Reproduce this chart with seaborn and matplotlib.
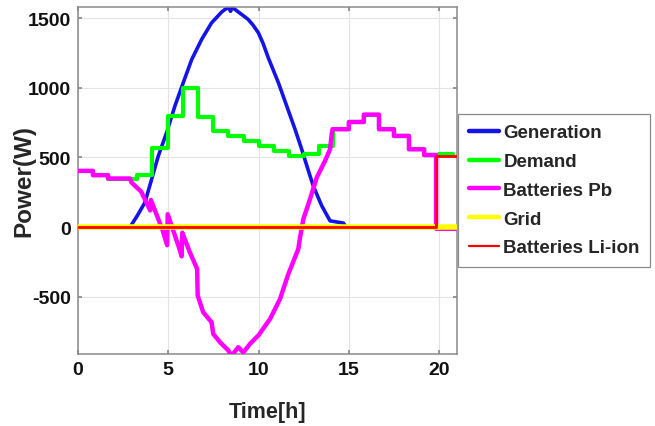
import matplotlib
matplotlib.use("Agg")
import matplotlib.pyplot as plt
import seaborn as sns

# ---- data (time in hours, power in W) ----
gen_t = [0, 2.88, 3.3, 3.71, 4.08, 4.45, 4.91, 5.37, 5.83, 6.3, 6.85, 7.4, 7.96,
         8.14, 8.33, 8.45, 8.55, 8.7, 9.07, 9.43, 9.7, 9.99, 10.25, 10.54,
         11.1, 11.56, 12.02, 12.39, 12.7, 13.03, 13.5, 13.96, 14.7, 14.85]
gen_p = [0, 0, 85, 177, 344, 511, 679, 870, 1037, 1204, 1348, 1467, 1545,
         1563, 1578, 1550, 1578, 1563, 1527, 1491, 1450, 1396, 1320, 1216,
         1037, 870, 703, 559, 430, 296, 153, 45, 29, 0]

dem_t = [0, 0.83, 1.67, 2.5, 3.25, 4.08, 5.0, 5.83, 6.67, 7.5, 8.33, 9.17, 10.0,
         10.83, 11.67, 12.5, 13.33, 14.1, 15.0, 15.83, 16.67, 17.5, 18.33,
         19.17, 20.0, 20.75]
dem_p = [404, 373, 349, 349, 372, 565, 798, 1000, 790, 690, 656, 619, 583,
         547, 511, 523, 583, 703, 755, 808, 703, 655, 559, 518, 527, 527]

pb_t = [0, 0.83, 0.83, 1.67, 1.67, 2.88, 2.97, 3.5, 3.8, 4.0, 4.04, 4.7, 4.94,
        4.97, 5.65, 5.74, 5.78, 6.2, 6.6, 6.63, 6.94, 7.4, 7.49, 7.87, 8.33,
        8.5, 8.88, 9.16, 9.53, 9.99, 10.64, 11.19, 11.65, 12.2, 12.3, 12.48,
        12.85, 13.22, 13.68, 13.96, 14.05, 14.1, 15.0, 15.0, 15.83, 15.83,
        16.67, 16.67, 17.5, 17.5, 18.33, 18.33, 19.17, 19.17, 19.83, 19.83, 21]
pb_p = [404, 404, 373, 373, 349, 349, 320, 255, 175, 120, 195, -26, -130,
        93, -168, -210, -40, -182, -300, -492, -612, -683, -767, -827, -886,
        -925, -862, -900, -838, -778, -659, -516, -337, -158, -74, 57,
        201, 356, 475, 559, 667, 703, 703, 755, 755, 808,
        808, 703, 703, 655, 655, 559, 559, 518, 518, -12, -12]

grid_t = [0, 21]
grid_p = [0, 0]

li_t = [0, 19.83, 19.83, 21]
li_p = [0, 0, 511, 511]

x_ticks = [0, 5, 10, 15, 20]
y_ticks = [-500, 0, 500, 1000, 1500]

# ---- style ----
sns.set_theme(style="whitegrid")
font = ["Liberation Sans", "DejaVu Sans"]
plt.rcParams["font.family"] = font
plt.rcParams["font.weight"] = "bold"
plt.rcParams["axes.unicode_minus"] = False

fig = plt.figure(figsize=(6.55, 4.27), dpi=100)
ax = fig.add_axes([0.119, 0.169, 0.579, 0.812])

common = dict(ax=ax, estimator=None, sort=False, errorbar=None)
sns.lineplot(x=gen_t, y=gen_p, color="#1414e6", lw=2.6,
             label="Generation", zorder=2, **common)
sns.lineplot(x=dem_t, y=dem_p, color="#00ff00", lw=3.0,
             drawstyle="steps-post", label="Demand", zorder=3, **common)
sns.lineplot(x=pb_t, y=pb_p, color="#ff00ff", lw=3.2,
             label="Batteries Pb", zorder=4, **common)
sns.lineplot(x=grid_t, y=grid_p, color="#ffff00", lw=4.0,
             label="Grid", zorder=5, **common)
sns.lineplot(x=li_t, y=li_p, color="#ff0000", lw=2.0,
             label="Batteries Li-ion", zorder=6, **common)

ax.set_xlim(0, 21)
ax.set_ylim(-910, 1580)
ax.set_xticks(x_ticks)
ax.set_yticks(y_ticks)
ax.grid(True, color="#e3e3e3", lw=0.8)
ax.set_facecolor("white")
for s in ax.spines.values():
    s.set_visible(True)
    s.set_color("#8a8a8a")
    s.set_linewidth(1.1)

ax.tick_params(axis="both", which="major", direction="in", length=3,
               color="#8a8a8a", labelsize=14, labelcolor="#111111", pad=5,
               top=True, right=True, left=True, bottom=True)
for lab in ax.get_xticklabels() + ax.get_yticklabels():
    lab.set_fontweight("bold")

ax.set_xlabel("Time[h]", fontsize=15.5, fontweight="bold", color="#262626")
ax.set_ylabel("Power(W)", fontsize=17.5, fontweight="bold", color="#262626")
ax.xaxis.set_label_coords(0.5, -0.135)
ax.yaxis.set_label_coords(-0.112, 0.5)

leg = ax.legend(loc="upper left", bbox_to_anchor=(1.003, 0.692),
                frameon=True, fancybox=False, framealpha=1,
                edgecolor="#8a8a8a", borderaxespad=0,
                prop={"family": font, "weight": "bold", "size": 13.5},
                handlelength=1.6, handletextpad=0.25, labelspacing=0.62,
                borderpad=0.55)
leg.get_frame().set_linewidth(0.9)
for line in leg.get_lines():
    line.set_linewidth(3.2)
leg.get_lines()[4].set_linewidth(1.6)

fig.savefig("out.png", dpi=100, facecolor="white")
